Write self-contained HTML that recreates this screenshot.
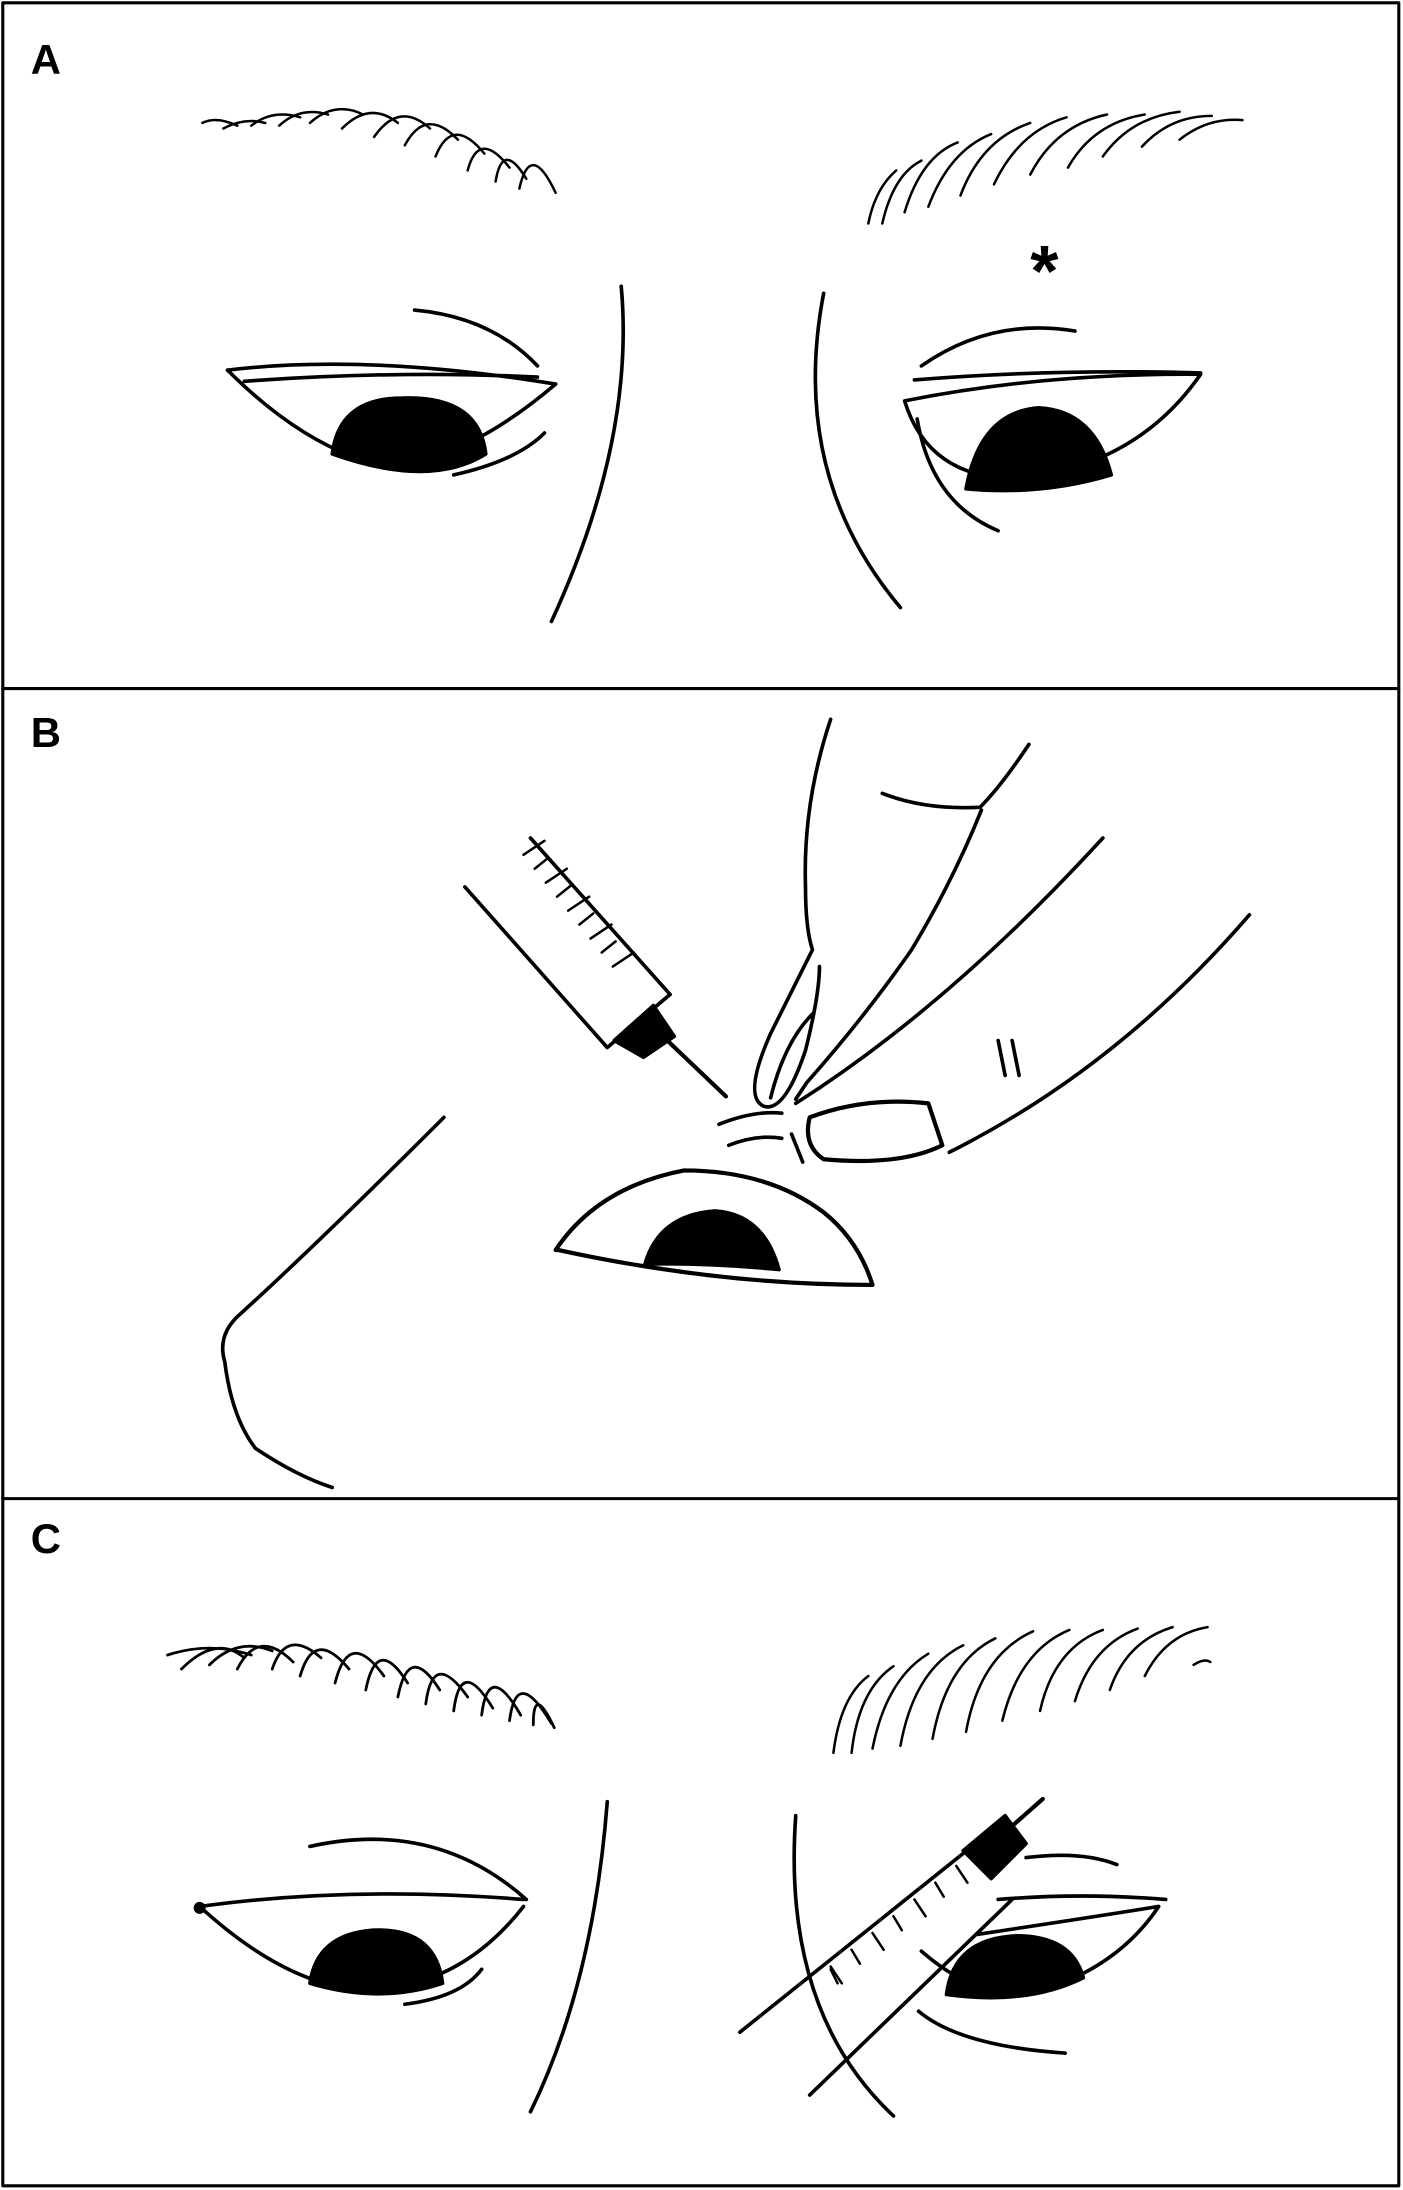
<!DOCTYPE html>
<html><head><meta charset="utf-8"><style>
html,body{margin:0;padding:0;background:#fff;}
svg{display:block;}
text{font-family:"Liberation Sans",sans-serif;font-weight:bold;}
</style></head><body>
<svg width="1403" height="2190" viewBox="0 0 1005 1568" preserveAspectRatio="none" xmlns="http://www.w3.org/2000/svg">
<rect x="0" y="0" width="1005" height="1568" fill="#fff"/>
<g fill="none" stroke="#000" stroke-width="2.6" stroke-linecap="round" stroke-linejoin="round">
<rect x="2" y="2" width="1000" height="1563" stroke-width="2.2"/>
<line x1="2" y1="493" x2="1002" y2="493" stroke-width="2.2"/>
<line x1="2" y1="1073" x2="1002" y2="1073" stroke-width="2.2"/>

<!-- PANEL A -->
<g stroke-width="1.8">
<path d="M145 88 q10 -5 25 2"/><path d="M160 92 q15 -8 30 -4"/><path d="M180 90 q15 -12 35 -6"/>
<path d="M200 90 q15 -14 35 -8"/><path d="M222 88 q18 -16 38 -6"/><path d="M245 92 q20 -20 40 -4"/>
<path d="M268 98 q18 -26 40 -6"/><path d="M290 104 q15 -28 38 -4"/><path d="M312 112 q12 -30 35 -2"/>
<path d="M335 122 q8 -30 30 -2"/><path d="M355 130 q5 -30 22 -2"/><path d="M372 135 q8 -35 26 3"/>
</g>
<g stroke-width="1.8">
<path d="M622 160 q5 -25 20 -38"/><path d="M632 160 q8 -35 28 -45"/><path d="M648 152 q12 -40 38 -50"/>
<path d="M665 148 q15 -40 45 -52"/><path d="M688 140 q15 -40 50 -52"/><path d="M712 132 q18 -38 52 -48"/>
<path d="M738 125 q18 -35 55 -43"/><path d="M765 120 q18 -32 55 -38"/><path d="M790 112 q20 -28 55 -32"/>
<path d="M818 105 q20 -22 50 -22"/><path d="M845 100 q20 -16 45 -14"/>
</g>
<text x="738" y="212" font-size="52" fill="#000" stroke="none">*</text>
<text x="22" y="53" font-size="30" fill="#000" stroke="none">A</text>
<path d="M297 222 q55 5 88 40"/>
<path d="M163 265 q100 -12 235 10"/>
<path d="M175 273 q110 -8 210 -3"/>
<path d="M163 265 q45 45 90 62 q60 20 145 -52"/>
<path d="M238 325 q5 -40 50 -40 q55 -2 60 40 q-40 25 -110 0 z" fill="#000"/>
<path d="M325 340 q45 -10 65 -30"/>
<path d="M445 205 q10 110 -50 240"/>
<path d="M590 210 q-25 130 55 225"/>
<path d="M660 262 q50 -35 110 -25"/>
<path d="M655 272 q100 -8 205 -5"/>
<path d="M648 287 q100 -20 212 -19 q-45 65 -130 75 q-65 0 -82 -56 z"/>
<path d="M692 350 q10 -55 52 -58 q40 2 52 48 q-50 15 -104 10 z" fill="#000"/>
<path d="M657 300 q10 60 58 80"/>

<!-- PANEL B -->
<text x="22" y="535" font-size="30" fill="#000" stroke="none">B</text>
<path d="M333 635 l102 115"/>
<path d="M380 600 l100 112"/>
<path d="M435 750 l45 -38"/>
<g stroke-width="1.8">
<path d="M375 612 l15 -10"/><path d="M383 622 l10 -8"/><path d="M391 632 l15 -10"/><path d="M399 642 l10 -8"/>
<path d="M407 652 l15 -10"/><path d="M415 662 l10 -8"/><path d="M423 672 l15 -10"/><path d="M431 682 l10 -8"/>
<path d="M439 692 l15 -10"/>
</g>
<path d="M440 745 l28 -25 l15 22 l-22 15 z" fill="#000"/>
<path d="M478 745 l42 40" stroke-width="3"/>
<path d="M595 515 q-20 60 -18 120 q0 30 5 45 l-30 60 q-20 45 -5 52 q15 5 30 -40 q10 -40 10 -60"/>
<path d="M552 786 q10 -40 30 -60"/>
<path d="M632 568 q30 12 70 10 q15 -15 35 -45"/>
<path d="M703 580 q-20 50 -50 100 q-35 50 -75 95 l-8 12"/>
<path d="M570 790 q110 -70 220 -190"/>
<path d="M580 800 q40 -15 85 -10 l10 30 q-30 15 -85 10 q-15 -10 -10 -30 z" stroke-width="3"/>
<path d="M680 825 q120 -60 215 -170"/>
<path d="M715 745 l5 25 M725 745 l5 25"/>
<path d="M515 805 q25 -10 45 -8"/><path d="M522 820 q20 -8 38 -5"/>
<path d="M567 812 l8 20"/>
<path d="M398 895 q30 -45 92 -57 q60 0 100 30 q25 20 35 52 q-110 0 -225 -25 z" stroke-width="3"/>
<path d="M462 905 q10 -35 50 -38 q35 2 46 42 q-50 -5 -96 -4 z" fill="#000"/>
<path d="M318 800 q-90 90 -145 140 q-18 15 -12 35 q5 40 22 62 q30 20 55 28"/>

<!-- PANEL C -->
<text x="22" y="1112" font-size="30" fill="#000" stroke="none">C</text>
<g stroke-width="2">
<path d="M120 1185 q30 -10 60 0"/><path d="M130 1195 q25 -25 45 -8"/><path d="M150 1192 q20 -20 45 -10"/>
<path d="M170 1195 q15 -30 40 -5"/><path d="M195 1195 q10 -30 35 -8"/><path d="M215 1200 q10 -35 35 -5"/>
<path d="M240 1205 q10 -40 35 -5"/><path d="M262 1210 q8 -40 30 -5"/><path d="M285 1215 q8 -40 30 -5"/>
<path d="M305 1220 q5 -40 30 -5"/><path d="M325 1225 q5 -40 28 -2"/><path d="M345 1228 q5 -40 28 0"/>
<path d="M365 1232 q5 -40 30 2"/><path d="M382 1235 q0 -30 15 2"/>
</g>
<g stroke-width="1.8">
<path d="M597 1255 q5 -40 25 -55"/><path d="M610 1255 q5 -45 30 -62"/><path d="M625 1252 q10 -50 40 -68"/>
<path d="M645 1250 q10 -55 45 -72"/><path d="M668 1245 q10 -55 45 -72"/><path d="M692 1240 q10 -55 48 -72"/>
<path d="M718 1232 q12 -50 48 -65"/><path d="M745 1225 q10 -45 45 -58"/><path d="M770 1218 q12 -40 45 -52"/>
<path d="M795 1210 q12 -35 45 -45"/><path d="M820 1200 q15 -30 45 -35"/><path d="M855 1192 q8 -5 12 -2"/>
</g>
<path d="M222 1322 q90 -20 155 38"/>
<path d="M143 1365 q110 -15 232 -5"/>
<path d="M143 1365 q60 55 115 60 q70 0 117 -60"/>
<circle cx="143" cy="1366" r="3" fill="#000"/>
<path d="M222 1420 q5 -35 45 -38 q45 -2 50 38 q-45 15 -95 0 z" fill="#000"/>
<path d="M290 1435 q40 -5 55 -25"/>
<path d="M435 1290 q-10 130 -55 222"/>
<path d="M570 1300 q-10 140 70 215"/>
<path d="M735 1330 q40 -5 65 5"/>
<path d="M715 1360 q60 -5 120 0"/>
<path d="M700 1385 q80 -12 130 -20 q-30 45 -90 62 q-40 5 -80 -30"/>
<path d="M678 1428 q5 -40 50 -42 q40 0 48 30 q-40 20 -98 12 z" fill="#000"/>
<path d="M658 1440 q30 25 105 30"/>
<path d="M530 1455 l165 -132"/>
<path d="M580 1500 l145 -140"/>
<g stroke-width="1.8">
<path d="M595 1408 l8 12"/><path d="M610 1396 l6 10"/><path d="M625 1384 l8 12"/><path d="M640 1372 l6 10"/>
<path d="M655 1360 l8 12"/><path d="M670 1348 l6 10"/><path d="M685 1336 l8 12"/><path d="M600 1420 l-5 -10"/>
</g>
<path d="M690 1325 l30 -25 l15 20 l-25 25 z" fill="#000"/>
<path d="M722 1310 l25 -22" stroke-width="3"/>
</g>
</svg>
</body></html>
